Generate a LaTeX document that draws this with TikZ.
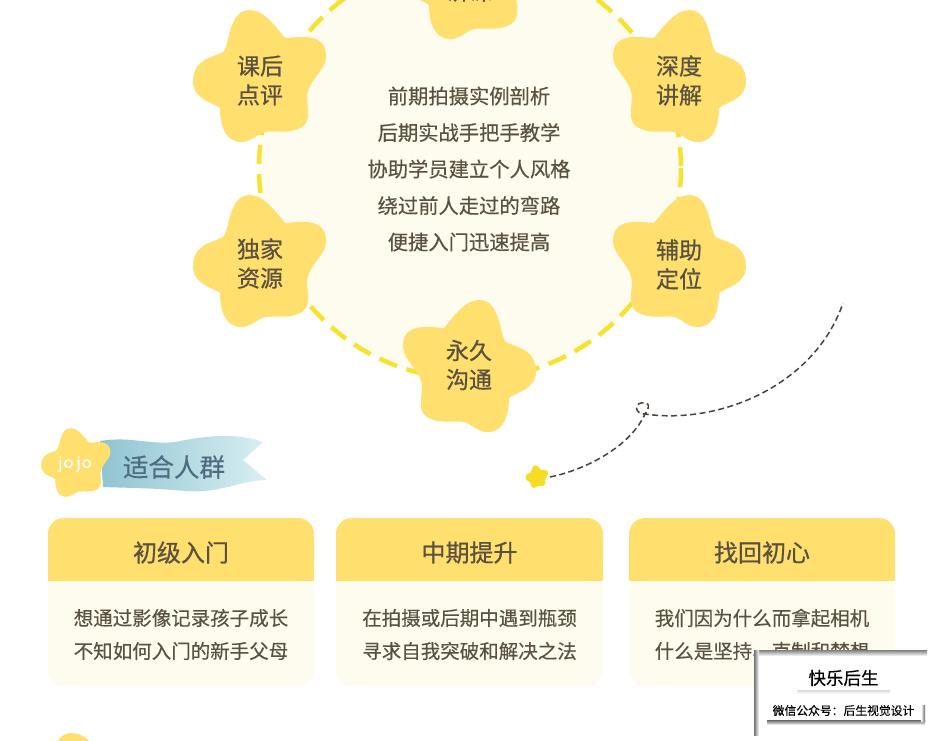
\documentclass[tikz,border=0pt]{standalone}
\usepackage{fontspec}
\setmainfont{Noto Sans CJK SC}
\newfontfamily\medfont[FakeBold=0.35]{Noto Sans CJK SC}
\newfontfamily\strongfont[FakeBold=0.7]{Noto Sans CJK SC}
\newfontfamily\latinfont[FakeBold=0.8]{Poppins}
\usetikzlibrary{calc}
\definecolor{starY}{HTML}{FFE06E}
\definecolor{cream}{HTML}{FEFCEE}
\definecolor{ringY}{HTML}{F6E22F}
\definecolor{inkT}{HTML}{5A5140}
\definecolor{dashK}{HTML}{4A4238}
\definecolor{ribL}{HTML}{8FC4D1}
\definecolor{ribR}{HTML}{D8EFF2}
\definecolor{ribT}{HTML}{4F6B80}
\definecolor{smallY}{HTML}{F6DC24}
\tikzset{
 x=1pt,y=-1pt,
 startext/.style={align=center,text=inkT,font=\strongfont\fontsize{23}{29}\selectfont,inner sep=0pt},
 bodytext/.style={text=inkT,font=\medfont\fontsize{19.5}{24}\selectfont,inner sep=0pt},
 centertext/.style={text=inkT,font=\medfont\fontsize{20.3}{24}\selectfont,inner sep=0pt},
 headtext/.style={text=inkT,font=\strongfont\fontsize{24}{28}\selectfont,inner sep=0pt},
 ringline/.style={draw=ringY,line width=4.5pt,dash pattern=on 19pt off 10pt},
 guide/.style={draw=dashK,line width=1.5pt,dash pattern=on 6pt off 3.5pt},
}
% #1 centre, #2 xscale, #3 yscale, #4 colour
\newcommand{\blob}[4]{%
 \fill[#4,shift={(#1)},xscale=#2,yscale=#3]
 (-37,-23) .. controls (-30,-30) and (-32,-65) .. (-10,-65)
 .. controls (5,-65) and (18,-45) .. (25,-37)
 .. controls (35,-37) and (67,-45) .. (66,-18)
 .. controls (66,-5) and (48,5) .. (47,22)
 .. controls (47,32) and (52,45) .. (42,52)
 .. controls (28,60) and (15,55) .. (5,57)
 .. controls (-3,59) and (-10,68) .. (-20,67)
 .. controls (-35,66) and (-40,50) .. (-40,33)
 .. controls (-45,28) and (-68,25) .. (-67,5)
 .. controls (-66,-17) and (-45,-18) .. (-37,-23) -- cycle;}
\newcommand{\card}[5]{%
 \fill[cream,rounded corners=16pt] (#1,518) rectangle (#2,686);
 \fill[starY,rounded corners=16pt] (#1,581) -- (#1,518) -- (#2,518) -- (#2,581) -- cycle;
 \fill[starY] (#1,560) rectangle (#2,581);
 \node[headtext] at ({(#1+#2)/2},552.5) {#3};
 \node[bodytext] at ({(#1+#2)/2},618) {#4};
 \node[bodytext] at ({(#1+#2)/2},651) {#5};}
\begin{document}
\begin{tikzpicture}
\useasboundingbox (0,0) rectangle (937,740);
\clip (0,0) rectangle (937,740);
\fill[white] (0,0) rectangle (937,740);
% ring
\fill[cream] (470,168) circle[radius=211];
\draw[ringline] (470,168) circle[radius=211];
% stars
\blob{469,-28}{1}{1}{starY}
\blob{260,75}{1}{1}{starY}
\blob{679,75}{-1}{1}{starY}
\blob{260,260}{1}{1}{starY}
\blob{679,260}{-1}{1}{starY}
\blob{469,365}{-1}{1}{starY}
\node[startext] (t1) at (469,-9) {讲课};
\node[startext] (t2) at (260,80.5) {课后\\点评};
\node[startext] (t3) at (679,80.5) {深度\\讲解};
\node[startext] (t4) at (260,263.5) {独家\\资源};
\node[startext] (t5) at (679,264.5) {辅助\\定位};
\node[startext] (t6) at (469,365) {永久\\沟通};
% centre text
\node[centertext] (c1) at (469,96) {前期拍摄实例剖析};
\node[centertext] (c2) at (469,132.5) {后期实战手把手教学};
\node[centertext] (c3) at (469,169) {协助学员建立个人风格};
\node[centertext] (c4) at (469,205.5) {绕过前人走过的弯路};
\node[centertext] (c5) at (469,242) {便捷入门迅速提高};
% guide
\blob{537,476.5}{.17}{.17}{smallY}
\node[inner sep=0pt,minimum size=2pt] (sm) at (550,477) {};
\coordinate (knot) at (645,414);
\coordinate (endg) at (843,303);
\draw[guide] (sm.center) .. controls (585,470) and (630,447) .. (knot)
  .. controls (652,404) and (647,402) .. (641,403)
  .. controls (634,404) and (635,414) .. (645,414)
  .. controls (720,425) and (815,385) .. (endg);
% ribbon
\shade[left color=ribL,right color=ribR]
 (100,441) .. controls (130,436) and (150,445) .. (175,442)
 .. controls (205,436) and (235,432) .. (263,442)
 -- (243,460) -- (267,480)
 .. controls (240,480) and (220,494) .. (185,491)
 .. controls (155,488) and (130,488) .. (103,487) -- cycle;
\blob{76,462}{.52}{.52}{starY}
\node[text=white,font=\latinfont\fontsize{15}{16}\selectfont,inner sep=0pt] (jj) at (75,464) {j\hspace{1.5pt}o\hspace{3.5pt}j\hspace{1.5pt}o};
\node[text=ribT,inner sep=0pt,font=\medfont\fontsize{25.5}{28}\selectfont] (rb) at (174,467) {适合人群};
% cards
\card{48}{314}{初级入门}{想通过影像记录孩子成长}{不知如何入门的新手父母}
\card{336}{603}{中期提升}{在拍摄或后期中遇到瓶颈}{寻求自我突破和解决之法}
\card{629}{895}{找回初心}{我们因为什么而拿起相机}{什么是坚持、克制和梦想}
% next section star
\blob{82,798}{1}{1}{starY}
% stamp
\fill[white] (755,651) rectangle (927,740);
\shade[top color=black!50,bottom color=white] (755,650) rectangle (927,656);
\shade[left color=black!55,right color=white] (754,650) rectangle (759,735);
\shade[top color=black!18,bottom color=white] (797,689) rectangle (890,694);
\node[fill=white,minimum width=93pt,minimum height=23pt,inner sep=0pt,text=black,font=\medfont\fontsize{17.5}{20}\selectfont] (s1) at (843.5,678) {快乐后生};
\shade[top color=black!60,bottom color=white] (767,720) rectangle (925,725);
\shade[left color=white,right color=black!60] (921,705) rectangle (925,721);
\node[text=black,inner sep=0pt,font=\medfont\fontsize{11.8}{14}\selectfont] (s2) at (843.5,710.5) {微信公众号：后生视觉设计};
\end{tikzpicture}
\end{document}
